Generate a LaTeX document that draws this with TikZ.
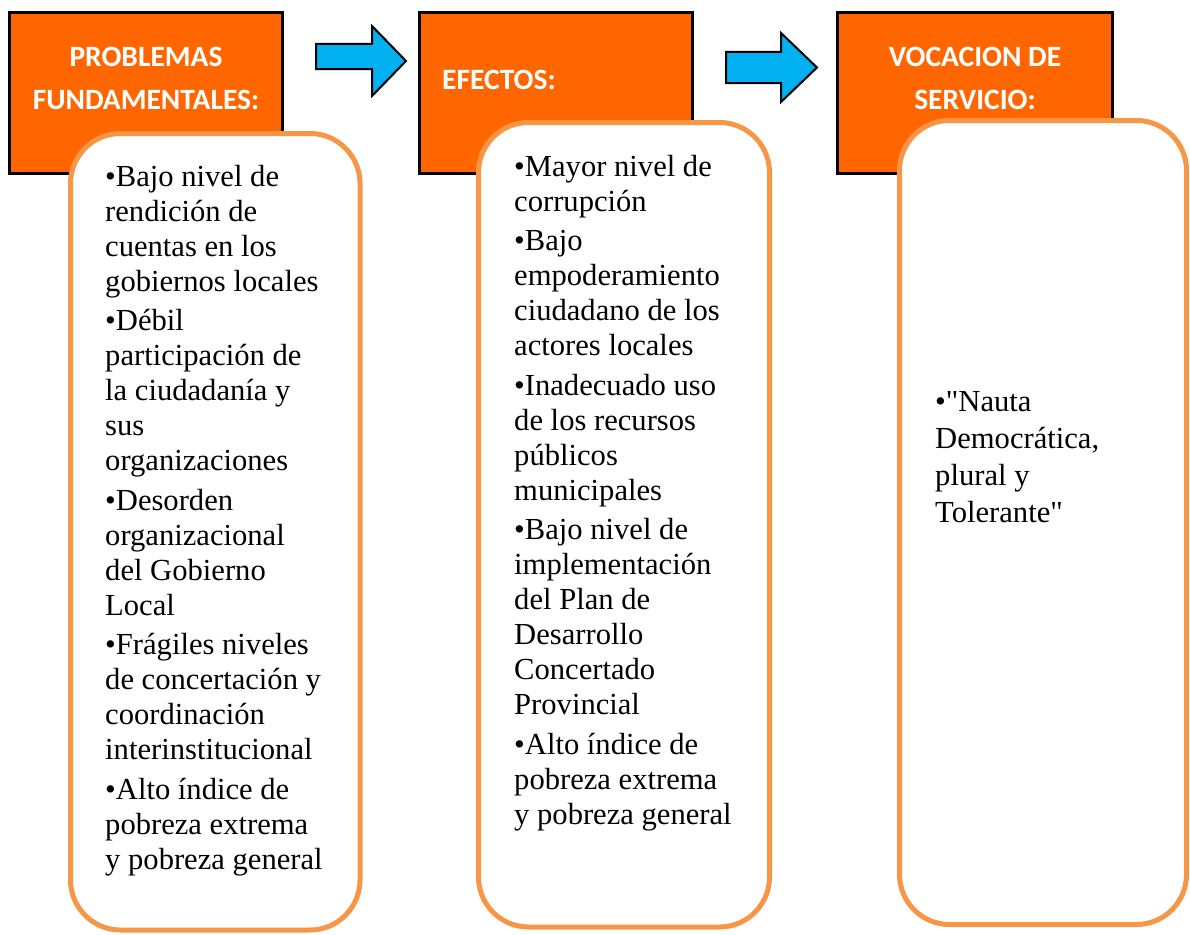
\documentclass[tikz,border=0pt]{standalone}
\usepackage{xcolor}
\usepackage{fontspec}
\setmainfont{Liberation Serif}
\newfontfamily\carlito{Carlito}
\usepackage{tikz}

\definecolor{naranja}{HTML}{FF6600}
\definecolor{borde}{HTML}{F79646}
\definecolor{celeste}{HTML}{00B0F0}

% comilla recta, sin el mapeo tex-text
\newcommand\comilla{\XeTeXglyph\XeTeXcharglyph"22\relax}

\tikzset{
    titulo/.style={text=white, font=\carlito\bfseries\fontsize{29.5}{43}\selectfont, align=center, inner sep=0pt},
    encabezado/.style={draw=black, line width=3pt, fill=naranja},
    marco/.style={draw=borde, line width=5pt, fill=white, rounded corners=50pt},
    lista/.style={font=\fontsize{30.6}{35}\selectfont, align=left, anchor=north west, inner sep=0pt},
    flecha/.style={draw=black, line width=2pt, fill=celeste, line join=miter}
}

\begin{document}
\begin{tikzpicture}[x=1pt,y=-1pt]
    \useasboundingbox (0,0) rectangle (1190,934);

    % Problemas fundamentales
    \draw[encabezado] (9.5,12.5) rectangle (282.5,173.5);
    \node[titulo] (tproblemas) at (146,78.5) {PROBLEMAS\\FUNDAMENTALES:};
    \draw[marco] (70.5,133.5) rectangle (360,930);
    \node[lista] (problemas) at (105,165) {%
        •Bajo nivel de\\rendición de\\cuentas en los\\gobiernos locales\\[4.5pt]
        •Débil\\participación de\\la ciudadanía y\\sus\\organizaciones\\[4.5pt]
        •Desorden\\organizacional\\del Gobierno\\Local\\[4.5pt]
        •Frágiles niveles\\de concertación y\\coordinación\\interinstitucional\\[4.5pt]
        •Alto índice de\\pobreza extrema\\y pobreza general};

    % Efectos
    \draw[encabezado] (419.5,12.5) rectangle (692.5,173.5);
    \node[titulo, anchor=west] (tefectos) at (442,80) {EFECTOS:};
    \draw[marco] (478.5,122.5) rectangle (769.5,927);
    \node[lista] (efectos) at (514,155) {%
        •Mayor nivel de\\corrupción\\[4.5pt]
        •Bajo\\empoderamiento\\ciudadano de los\\actores locales\\[4.5pt]
        •Inadecuado uso\\de los recursos\\públicos\\municipales\\[4.5pt]
        •Bajo nivel de\\implementación\\del Plan de\\Desarrollo\\Concertado\\Provincial\\[4.5pt]
        •Alto índice de\\pobreza extrema\\y pobreza general};

    % Vocacion de servicio
    \draw[encabezado] (837.5,12.5) rectangle (1112.5,173.5);
    \node[titulo] (tvocacion) at (975,78.5) {VOCACION DE\\SERVICIO:};
    \draw[marco] (899.5,120.5) rectangle (1186.5,924.5);
    \node[lista, font=\fontsize{30.6}{37}\selectfont] (vocacion) at (935,391) {%
        •\comilla Nauta\\Democrática,\\plural y\\Tolerante\comilla};

    % Flechas
    \draw[flecha] (316,44) -- (372,44) -- (372,26) -- (406,61) -- (372,96) -- (372,69) -- (316,69) -- cycle;
    \draw[flecha] (726,52) -- (781,52) -- (781,33) -- (817,67.5) -- (781,102) -- (781,83) -- (726,83) -- cycle;
\end{tikzpicture}
\end{document}
